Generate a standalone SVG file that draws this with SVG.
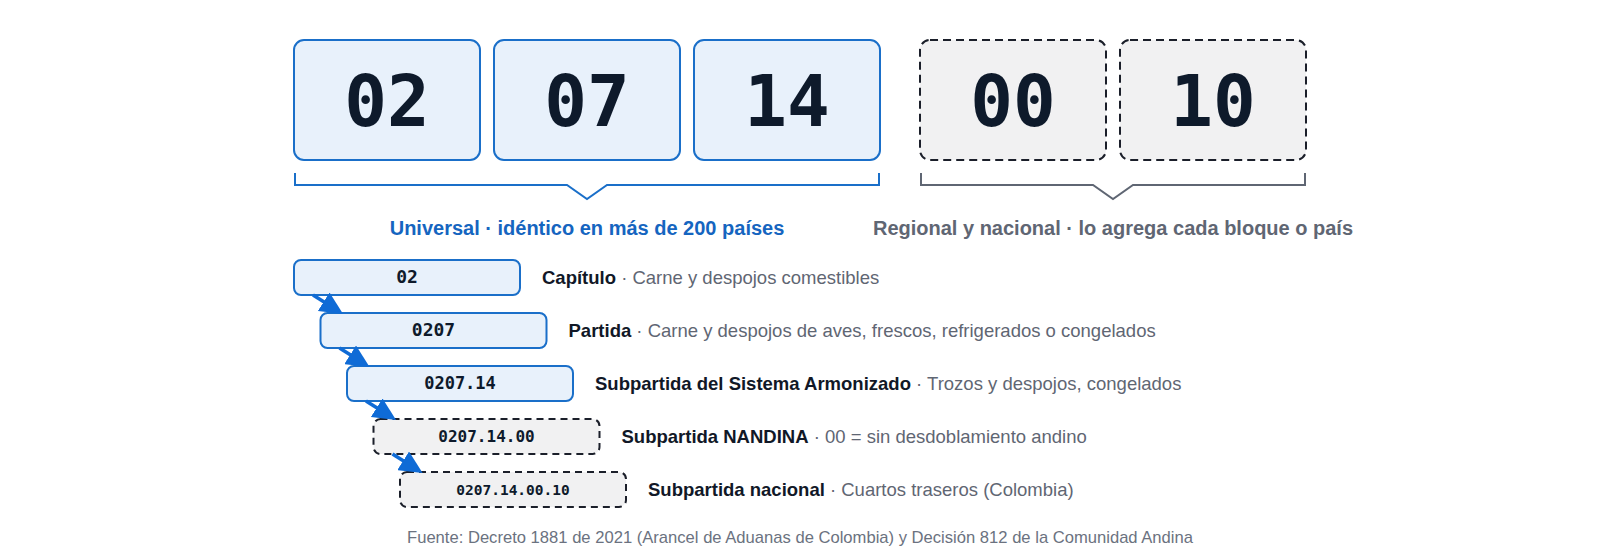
<svg xmlns="http://www.w3.org/2000/svg" width="1600" height="560" viewBox="0 0 1600 560">
<style>
.bg{fill:#ffffff}
.ubox{fill:#e8f1fb;stroke:#1a6fc9;stroke-width:2}
.rbox{fill:#f1f1f2;stroke:#1b1f2a;stroke-width:2;stroke-dasharray:8 5}
.big{font-family:"DejaVu Sans Mono",monospace;font-weight:bold;font-size:71px;fill:#0e1a2b;text-anchor:middle}
.code{font-family:"DejaVu Sans Mono",monospace;font-weight:bold;fill:#0e1a2b;text-anchor:middle}
.sbox{fill:#e8f1fb;stroke:#1a6fc9;stroke-width:2}
.sdash{fill:#f1f1f2;stroke:#1b1f2a;stroke-width:2;stroke-dasharray:7 5}
.lab{font-family:"Liberation Sans",Arial,sans-serif;font-size:18.5px;fill:#5f6673}
.lab .b{font-weight:bold;fill:#111827}
.ulab{font-family:"Liberation Sans",Arial,sans-serif;font-size:20px;font-weight:bold;fill:#1565c0;text-anchor:middle}
.rlab{font-family:"Liberation Sans",Arial,sans-serif;font-size:20px;font-weight:bold;fill:#5f6673;text-anchor:middle}
.foot{font-family:"Liberation Sans",Arial,sans-serif;font-size:16.6px;fill:#6b7280;text-anchor:middle}
.brk{fill:none;stroke-width:2;stroke-linejoin:miter}
.arr{stroke:#0f6bd6;stroke-width:3.5;fill:none}
</style>
<defs>
<marker id="ah" markerUnits="userSpaceOnUse" markerWidth="24" markerHeight="22" refX="1" refY="11" orient="auto">
<path d="M0,0 L23,11 L0,22 Z" fill="#0f6bd6"/>
</marker>
</defs>
<rect class="bg" x="0" y="0" width="1600" height="560"/>

<g id="seg-02"><rect class="ubox" x="294" y="40" width="186" height="120" rx="10"/><text class="big" x="387" y="126">02</text></g>
<g id="seg-07"><rect class="ubox" x="494" y="40" width="186" height="120" rx="10"/><text class="big" x="587" y="126">07</text></g>
<g id="seg-14"><rect class="ubox" x="694" y="40" width="186" height="120" rx="10"/><text class="big" x="787" y="126">14</text></g>
<g id="seg-00"><rect class="rbox" x="920" y="40" width="186" height="120" rx="10"/><text class="big" x="1013" y="126">00</text></g>
<g id="seg-10"><rect class="rbox" x="1120" y="40" width="186" height="120" rx="10"/><text class="big" x="1213" y="126">10</text></g>

<g id="bracket-universal">
<path class="brk" stroke="#1a6fc9" d="M295,173 V185 H567 L587,199 L607,185 H879 V173"/>
<text class="ulab" x="587" y="235">Universal · idéntico en más de 200 países</text>
</g>
<g id="bracket-regional">
<path class="brk" stroke="#5f6673" d="M921,173 V185 H1093 L1113,199 L1133,185 H1305 V173"/>
<text class="rlab" x="1113" y="235">Regional y nacional · lo agrega cada bloque o país</text>
</g>

<g id="lvl-capitulo">
<rect class="sbox" x="294" y="260" width="226" height="35" rx="7"/>
<text class="code" x="407" y="283" font-size="18">02</text>
<text class="lab" x="542" y="283.5"><tspan class="b">Capítulo</tspan> · Carne y despojos comestibles</text>
</g>
<g id="lvl-partida">
<rect class="sbox" x="320.5" y="313" width="226" height="35" rx="7"/>
<text class="code" x="433.5" y="336" font-size="18">0207</text>
<text class="lab" x="568.5" y="336.5"><tspan class="b">Partida</tspan> · Carne y despojos de aves, frescos, refrigerados o congelados</text>
</g>
<g id="lvl-subpartida-sa">
<rect class="sbox" x="347" y="366" width="226" height="35" rx="7"/>
<text class="code" x="460" y="389" font-size="17">0207.14</text>
<text class="lab" x="595" y="389.5"><tspan class="b">Subpartida del Sistema Armonizado</tspan> · Trozos y despojos, congelados</text>
</g>
<g id="lvl-nandina">
<rect class="sdash" x="373.5" y="419" width="226" height="35" rx="7"/>
<text class="code" x="486.5" y="442" font-size="16">0207.14.00</text>
<text class="lab" x="621.5" y="442.5"><tspan class="b">Subpartida NANDINA</tspan> · 00 = sin desdoblamiento andino</text>
</g>
<g id="lvl-nacional">
<rect class="sdash" x="400" y="472" width="226" height="35" rx="7"/>
<text class="code" x="513" y="494.5" font-size="14.5">0207.14.00.10</text>
<text class="lab" x="648" y="495.5"><tspan class="b">Subpartida nacional</tspan> · Cuartos traseros (Colombia)</text>
</g>

<g id="connectors">
<line class="arr" x1="313" y1="295" x2="324.5" y2="302.3" marker-end="url(#ah)"/>
<line class="arr" x1="339.5" y1="348" x2="351" y2="355.3" marker-end="url(#ah)"/>
<line class="arr" x1="366" y1="401" x2="377.5" y2="408.3" marker-end="url(#ah)"/>
<line class="arr" x1="392.5" y1="454" x2="404" y2="461.3" marker-end="url(#ah)"/>
</g>

<text class="foot" x="800" y="543">Fuente: Decreto 1881 de 2021 (Arancel de Aduanas de Colombia) y Decisión 812 de la Comunidad Andina</text>
</svg>
